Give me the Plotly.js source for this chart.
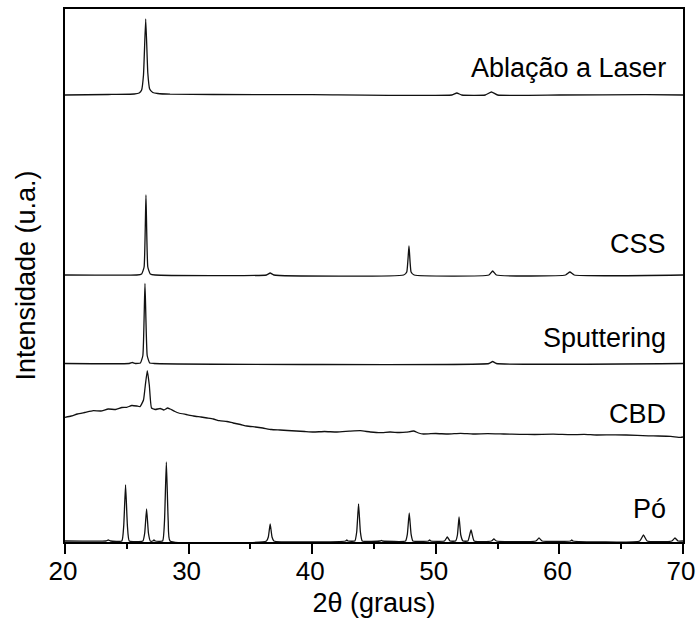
<!DOCTYPE html>
<html>
<head>
<meta charset="utf-8">
<script src="https://cdn.plot.ly/plotly-3.0.1.min.js"></script>
<style>html,body{margin:0;padding:0;background:#fff;}#chart{width:696px;height:632px;}</style>
</head>
<body>
<div id="chart"></div>
<script>
// 2θ positions (degrees) and intensities (arbitrary units, above each pattern's own baseline)
const ablacaoX = [20, 23.5, 25.6, 26.0, 26.2, 26.35, 26.53, 26.7, 26.85, 27.1, 27.5, 28.5, 32, 40, 51.3, 51.7, 52.1, 54.0, 54.5, 55.0, 60, 67, 70];
const ablacaoY = [0, 0.5, 1, 2, 5, 20, 76, 22, 6, 2.5, 1.5, 0.8, 0.5, 0.3, 0, 2, 0, 0, 3, 0, 0, 0.3, 0];

const cssX = [20, 25.8, 26.2, 26.4, 26.55, 26.7, 26.9, 27.3, 36.3, 36.6, 36.9, 47.4, 47.65, 47.83, 48.0, 48.25, 54.3, 54.6, 54.9, 60.5, 60.85, 61.2, 70];
const cssY = [0, 0, 1, 8, 80, 8, 1, 0, 0, 2, 0, 0, 3, 29, 3, 0, 0, 4, 0, 0, 3, 0, 0];

const sputX = [20, 25.2, 25.45, 25.7, 26.1, 26.3, 26.47, 26.65, 26.85, 27.2, 54.3, 54.6, 54.9, 70];
const sputY = [0, 0, 1, 0, 0.5, 8, 80, 8, 0.5, 0, 0, 2, 0, 0];

const cbdX = [20, 20.5, 21, 21.6, 22.3, 22.9, 23.5, 24.1, 24.6, 25.0, 25.4, 25.8, 26.07, 26.35, 26.5, 26.66, 26.82, 27.0, 27.3, 27.7, 28.0, 28.3, 28.5, 28.9, 29.2, 29.8, 30.4, 31.0, 31.5, 32.0, 32.5, 33.1, 33.6, 34.2, 34.7, 35.4, 36.0, 36.7, 37.4, 38.0, 38.7, 39.4, 40.1, 41.0, 42.0, 43.0, 43.9, 44.7, 45.5, 46.3, 47.0, 47.6, 48.2, 48.6, 49.0, 50.0, 51.0, 52.0, 53.0, 54.2, 55.5, 56.8, 58.0, 59.5, 60.9, 62.0, 63.0, 64.5, 66.3, 67.2, 68.0, 69.0, 69.8, 70];
const cbdY = [124.7, 126, 128, 129.5, 131.3, 131, 133, 132.5, 134.5, 134.7, 136.5, 136, 135.3, 142, 157, 171.3, 157, 134, 132.5, 133.5, 132, 134, 133, 130.5, 129, 127.5, 126, 125, 124, 123, 121.3, 120.5, 119, 117.5, 116, 115, 114, 112.5, 112, 111.5, 111, 110.5, 110, 110.5, 110, 110.8, 111.3, 110, 109.3, 110, 109.5, 109.8, 111, 109, 108, 108.5, 108, 108.6, 108, 108.4, 108, 107.6, 107.5, 107.8, 107.3, 107.6, 107, 107.2, 106.7, 106.2, 106, 105.6, 104.7, 105];

const poX = [20, 23.3, 23.5, 23.7, 24.6, 24.75, 24.9, 25.05, 25.2, 26.3, 26.45, 26.6, 26.75, 26.9, 27.1, 27.2, 27.3, 27.9, 28.05, 28.2, 28.35, 28.5, 36.3, 36.45, 36.6, 36.75, 36.9, 42.7, 42.8, 42.9, 43.45, 43.6, 43.75, 43.9, 44.05, 45.5, 45.6, 45.7, 47.55, 47.7, 47.85, 48.0, 48.15, 49.4, 49.5, 49.6, 50.7, 50.93, 51.15, 51.6, 51.75, 51.88, 52.02, 52.2, 52.6, 52.85, 53.1, 54.5, 54.7, 54.9, 58.1, 58.35, 58.6, 60.9, 61.0, 61.1, 66.5, 66.8, 67.1, 69.1, 69.35, 69.6, 70];
const poY = [0, 0, 1, 0, 0, 15, 56, 15, 0, 0, 8, 32, 8, 0, 0, 1, 0, 0, 20, 79, 20, 0, 0, 4, 17, 4, 0, 0, 1, 0, 0, 9, 37, 9, 0, 0, 0.5, 0, 0, 7, 28, 7, 0, 0, 1, 0, 0, 4, 0, 0, 6, 24, 6, 0, 0, 11, 0, 0, 2, 0, 0, 3, 0, 0, 1, 0, 0, 6, 0, 0, 3, 0, 0];

// vertical stacking offsets of each pattern
const offsets = {ablacao: 447, css: 267, sput: 178.5, cbd: 0, po: 1};
const labels = ["Ablação a Laser", "CSS", "Sputtering", "CBD", "Pó"];
const labelY = [474, 298, 204, 128, 33];
const xTicks = [20, 30, 40, 50, 60, 70];

const shift = (arr, o) => arr.map(v => v + o);
const traces = [
  {x: ablacaoX, y: shift(ablacaoY, offsets.ablacao)},
  {x: cssX, y: shift(cssY, offsets.css)},
  {x: sputX, y: shift(sputY, offsets.sput)},
  {x: cbdX, y: shift(cbdY, offsets.cbd)},
  {x: poX, y: shift(poY, offsets.po)}
].map(t => Object.assign(t, {type: 'scatter', mode: 'lines', hoverinfo: 'skip', cliponaxis: false,
  line: {color: '#111', width: 1.3, shape: 'spline', smoothing: 0.4}}));

const font = {family: '"Liberation Sans", Arial, sans-serif', color: '#000'};
const layout = {
  width: 696, height: 632,
  margin: {l: 65, r: 13, t: 9, b: 90},
  paper_bgcolor: '#fff', plot_bgcolor: '#fff',
  showlegend: false,
  font: Object.assign({size: 26}, font),
  xaxis: {
    range: [20, 70.0001], tickvals: xTicks, ticktext: xTicks.map(String),
    ticks: 'outside', ticklen: 10, tickwidth: 2, tickcolor: '#000',
    ticklabeloverflow: 'allow', ticklabelshift: -2, ticklabelstandoff: -5,
    minor: {dtick: 5, ticks: 'outside', ticklen: 5, tickwidth: 2, tickcolor: '#000', showgrid: false},
    showline: true, linewidth: 2, linecolor: '#000', mirror: true,
    showgrid: false, zeroline: false,
    tickfont: Object.assign({size: 26}, font),
    title: {text: '2θ (graus)', font: Object.assign({size: 27}, font), standoff: 8}
  },
  yaxis: {
    range: [0, 533], showticklabels: false, ticks: '',
    showline: true, linewidth: 2, linecolor: '#000', mirror: true,
    showgrid: false, zeroline: false,
    title: {text: 'Intensidade (u.a.)', font: Object.assign({size: 27}, font), standoff: 20}
  },
  annotations: labels.map((t, i) => ({
    x: 68.8, y: labelY[i], xref: 'x', yref: 'y', text: t, showarrow: false,
    xanchor: 'right', yanchor: 'middle', font: Object.assign({size: 27}, font)
  }))
};
Plotly.newPlot('chart', traces, layout, {displayModeBar: false, staticPlot: true});
</script>
</body>
</html>
